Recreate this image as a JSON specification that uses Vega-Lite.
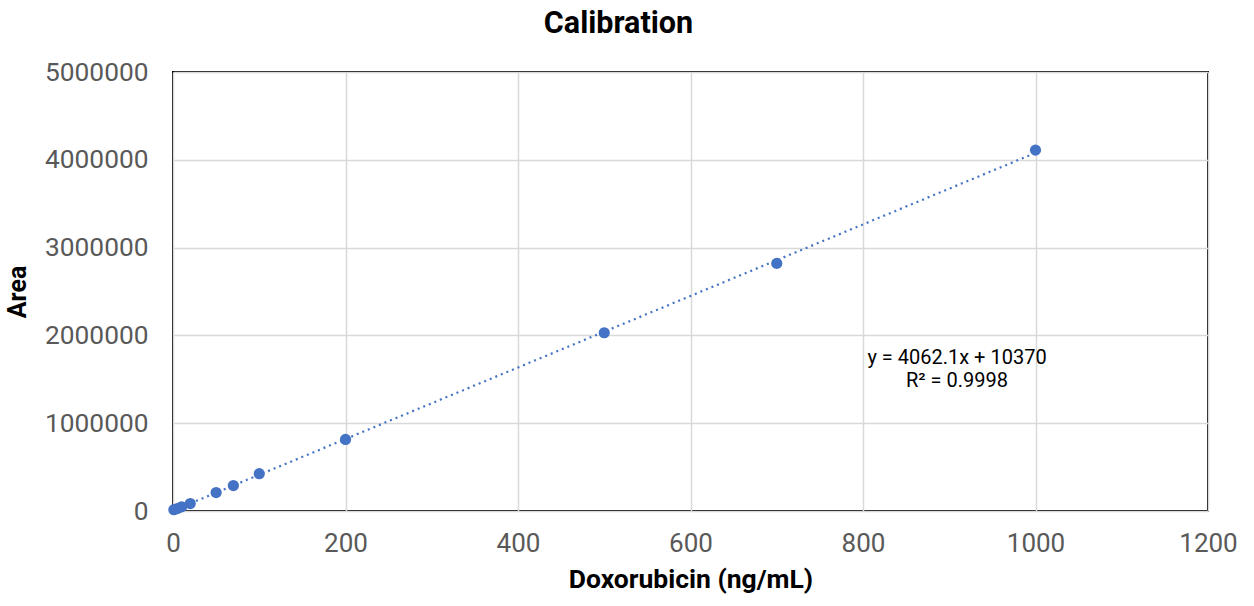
{
  "$schema": "https://vega.github.io/schema/vega-lite/v6.json",
  "width": 1035,
  "height": 439,
  "autosize": {"type": "none"},
  "padding": {"left": 173, "top": 72, "right": 46, "bottom": 95},
  "background": "white",
  "title": {
    "text": "Calibration",
    "font": "Roboto",
    "fontSize": 30.5,
    "fontWeight": "bold",
    "color": "#000000",
    "anchor": "middle",
    "frame": "group",
    "offset": 20,
    "dx": -72
  },
  "config": {
    "view": {"stroke": "#000000", "strokeWidth": 2},
    "axis": {
      "labelFont": "Roboto",
      "titleFont": "Roboto",
      "labelColor": "#595959",
      "titleColor": "#000000",
      "gridColor": "#d9d9d9",
      "gridWidth": 1.5,
      "domain": false,
      "ticks": false,
      "labelFlush": false
    }
  },
  "datasets": {
    "cal": [
      {"conc": 1, "area": 15000},
      {"conc": 5, "area": 28000},
      {"conc": 10, "area": 48000},
      {"conc": 20, "area": 85000},
      {"conc": 50, "area": 210000},
      {"conc": 70, "area": 290000},
      {"conc": 100, "area": 425000},
      {"conc": 200, "area": 815000},
      {"conc": 500, "area": 2030000},
      {"conc": 700, "area": 2820000},
      {"conc": 1000, "area": 4110000}
    ],
    "note": [
      {"conc": 909, "area": 1740000, "label": ["y = 4062.1x + 10370", "R² = 0.9998"]}
    ]
  },
  "layer": [
    {
      "data": {"name": "cal"},
      "transform": [{"regression": "area", "on": "conc", "method": "linear"}],
      "mark": {"type": "line", "color": "#4472C4", "strokeWidth": 2.2, "strokeDash": [2, 4]},
      "encoding": {
        "x": {"field": "conc", "type": "quantitative"},
        "y": {"field": "area", "type": "quantitative"}
      }
    },
    {
      "data": {"name": "cal"},
      "mark": {"type": "circle", "color": "#4472C4", "opacity": 1, "size": 125},
      "encoding": {
        "x": {
          "field": "conc",
          "type": "quantitative",
          "scale": {"domain": [0, 1200], "nice": false},
          "axis": {
            "title": "Doxorubicin (ng/mL)",
            "values": [0, 200, 400, 600, 800, 1000, 1200],
            "format": "d",
            "labelFontSize": 26,
            "labelPadding": 19,
            "titleFontSize": 26.5,
            "titleFontWeight": "bold",
            "titlePadding": 10
          }
        },
        "y": {
          "field": "area",
          "type": "quantitative",
          "scale": {"domain": [0, 5000000], "nice": false},
          "axis": {
            "title": "Area",
            "values": [0, 1000000, 2000000, 3000000, 4000000, 5000000],
            "format": "d",
            "labelFontSize": 26.3,
            "labelPadding": 25,
            "titleFontSize": 25,
            "titleFontWeight": "bold",
            "titlePadding": 14
          }
        }
      }
    },
    {
      "data": {"name": "note"},
      "mark": {"type": "text", "font": "Roboto", "fontSize": 20, "color": "#000000", "align": "center", "baseline": "middle", "lineHeight": 23},
      "encoding": {
        "x": {"field": "conc", "type": "quantitative"},
        "y": {"field": "area", "type": "quantitative"},
        "text": {"field": "label"}
      }
    }
  ]
}
